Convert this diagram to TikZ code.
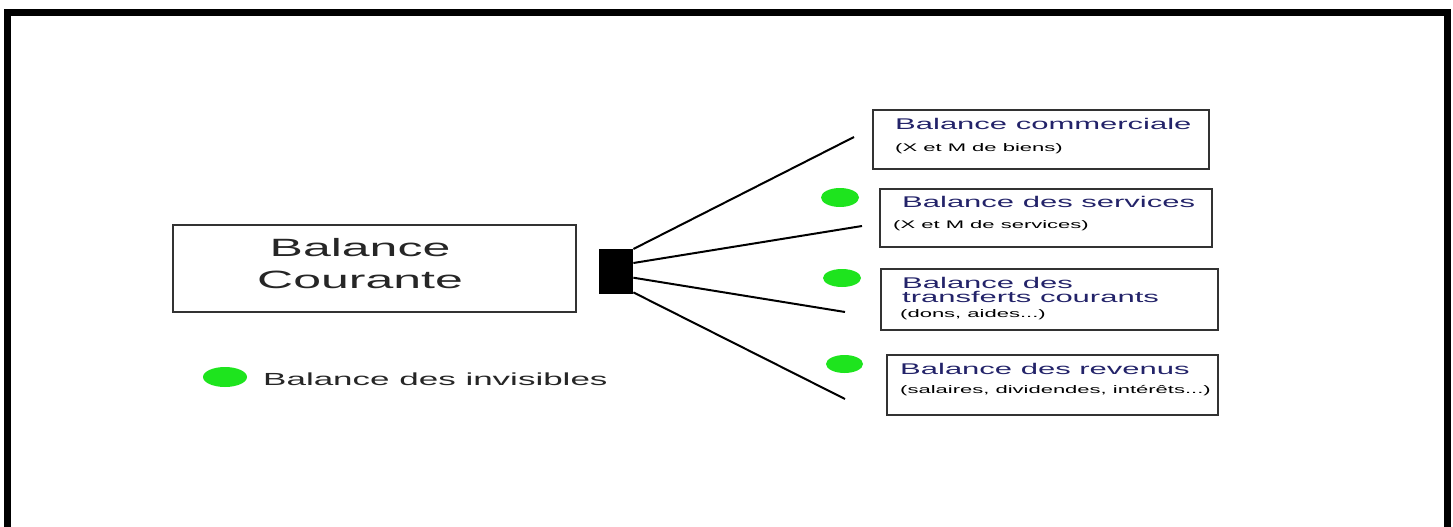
\documentclass[tikz,border=0pt]{standalone}
\usepackage{fontspec}
\setmainfont{Liberation Sans}
\newfontfamily\widesans{Liberation Sans}[FakeStretch=2]
\definecolor{dotgreen}{RGB}{30,228,30}
\definecolor{titlenavy}{RGB}{35,35,105}
\definecolor{boxline}{RGB}{50,50,50}
\tikzset{
  boxnode/.style={draw=boxline, line width=2pt, rectangle, anchor=north west, inner sep=0pt},
  titletext/.style={anchor=base west, inner sep=0pt, text=titlenavy, font=\widesans\fontsize{15.5}{14.5}\selectfont, align=left},
  subtext/.style={anchor=base west, inner sep=0pt, text=black, font=\widesans\fontsize{11}{13}\selectfont},
  greendot/.style={ellipse, fill=dotgreen, draw=none, inner sep=0pt},
  link/.style={line width=2pt, black},
}
\usetikzlibrary{shapes.geometric}
\begin{document}
\begin{tikzpicture}[x=1pt,y=-1pt]
\useasboundingbox (0,0) rectangle (1453,527);
% outer frame
\draw[line width=7pt] (7,527) -- (7,13) -- (1447,13) -- (1447,527);

% main box
\node[boxnode, minimum width=403pt, minimum height=87pt] (main) at (172,224) {};
\node[inner sep=0pt, align=center, font=\widesans\fontsize{25}{32}\selectfont, text=black!85] (mainlbl) at (360,264) {Balance\\Courante};

% black connector block
\node[rectangle, fill=black, minimum width=34pt, minimum height=45pt, inner sep=0pt, anchor=north west] (hub) at (599,249) {};

% right boxes
\node[boxnode, minimum width=336pt, minimum height=59pt] (b1) at (872,109) {};
\node[boxnode, minimum width=332pt, minimum height=58pt] (b2) at (879,188) {};
\node[boxnode, minimum width=337pt, minimum height=61pt] (b3) at (880,268) {};
\node[boxnode, minimum width=331pt, minimum height=60pt] (b4) at (886,354) {};

\node[titletext] (t1) at (895,129) {Balance commerciale};
\node[subtext] (s1) at (895,151) {(X et M de biens)};
\node[titletext] (t2) at (902,207) {Balance des services};
\node[subtext] (s2) at (893,228) {(X et M de services)};
\node[titletext] (t3) at (902,302.5) {Balance des\\transferts courants};
\node[subtext] (s3) at (900,317) {(dons, aides...)};
\node[titletext] (t4) at (900,374) {Balance des revenus};
\node[subtext] (s4) at (900,393) {(salaires, dividendes, intérêts...)};

% line ends
\coordinate (e1) at (854,137);
\coordinate (e2) at (862,226);
\coordinate (e3) at (845,312);
\coordinate (e4) at (845,399);
\draw[link] (hub.north east) -- (e1);
\draw[link] ([yshift=-14pt]hub.north east) -- (e2);
\draw[link] ([yshift=-6pt]hub.east) -- (e3);
\draw[link] ([yshift=2pt]hub.south east) -- (e4);

% green dots
\node[greendot, minimum width=38pt, minimum height=19pt] (d2) at (840,197.5) {};
\node[greendot, minimum width=38pt, minimum height=18pt] (d3) at (842,278) {};
\node[greendot, minimum width=37pt, minimum height=18pt] (d4) at (844.5,364) {};

% legend
\node[greendot, minimum width=44pt, minimum height=20pt] (ld) at (225,377) {};
\node[anchor=base west, inner sep=0pt, font=\widesans\fontsize{17.5}{20}\selectfont, text=black!85] (lt) at (263,385) {Balance des invisibles};
\end{tikzpicture}
\end{document}
